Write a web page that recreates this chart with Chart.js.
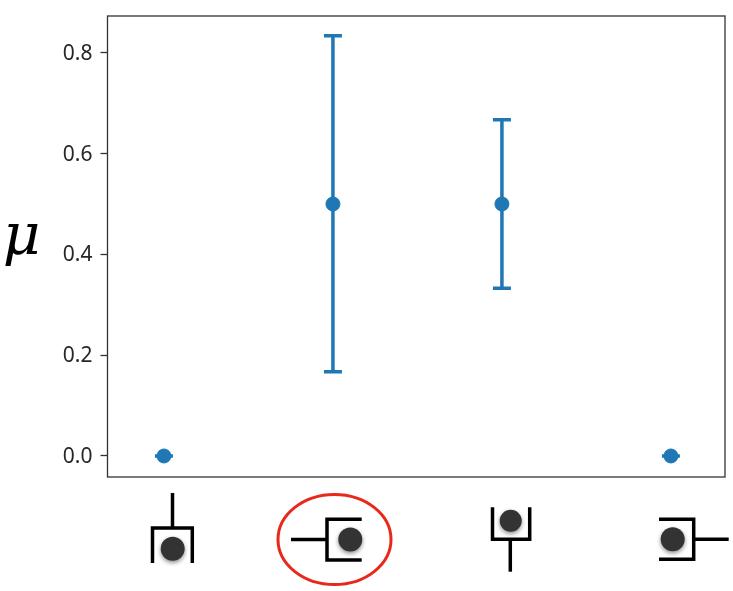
<!DOCTYPE html>
<html>
<head>
<meta charset="utf-8">
<script src="https://cdn.jsdelivr.net/npm/chart.js@4"></script>
<style>
  html, body { margin: 0; padding: 0; background: #fff; }
  canvas { display: block; }
</style>
</head>
<body>
<canvas id="muChart" width="733" height="591"></canvas>
<script>
const positions = [0, 1, 2, 3];
const muValues = [0, 0.5, 0.5, 0];
const lowerValues = [0, 0.167, 0.333, 0];
const upperValues = [0, 0.834, 0.667, 0];
const yTicks = [0, 0.2, 0.4, 0.6, 0.8];

const blue = '#1f77b4';

// little bracket glyphs under the axis, stem is the open line, dot is the particle
function drawBracket(ctx, path, dot) {
    ctx.save();
    ctx.strokeStyle = '#000';
    ctx.lineWidth = 3.5;
    ctx.lineJoin = 'miter';
    path.forEach(line => {
        ctx.beginPath();
        line.forEach((p, i) => i ? ctx.lineTo(p[0], p[1]) : ctx.moveTo(p[0], p[1]));
        ctx.stroke();
    });
    ctx.shadowColor = 'rgba(0,0,0,0.45)';
    ctx.shadowBlur = 4;
    ctx.shadowOffsetY = 2;
    ctx.fillStyle = '#333';
    ctx.beginPath();
    ctx.arc(dot[0], dot[1], dot[2], 0, Math.PI * 2);
    ctx.fill();
    ctx.restore();
}

const errorBars = {
    id: 'errorBars',
    beforeDatasetsDraw(chart) {
        const { ctx, scales: { x, y } } = chart;
        ctx.save();
        ctx.strokeStyle = blue;
        ctx.lineWidth = 3.5;
        positions.forEach((pos, i) => {
            const px = x.getPixelForValue(pos);
            const lo = y.getPixelForValue(lowerValues[i]);
            const hi = y.getPixelForValue(upperValues[i]);
            ctx.beginPath();
            ctx.moveTo(px, lo);
            ctx.lineTo(px, hi);
            ctx.moveTo(px - 9, lo);
            ctx.lineTo(px + 9, lo);
            ctx.moveTo(px - 9, hi);
            ctx.lineTo(px + 9, hi);
            ctx.stroke();
        });
        ctx.restore();
    }
};

const decorations = {
    id: 'decorations',
    afterDraw(chart) {
        const { ctx, chartArea: a } = chart;

        // axes box
        ctx.save();
        ctx.strokeStyle = '#333';
        ctx.lineWidth = 1.3;
        ctx.strokeRect(a.left, a.top, a.right - a.left, a.bottom - a.top);

        // mu label
        ctx.fillStyle = '#000';
        ctx.font = 'italic 58px "DejaVu Serif"';
        ctx.textAlign = 'center';
        ctx.textBaseline = 'alphabetic';
        ctx.fillText('μ', 21.5, 254);
        ctx.restore();

        drawBracket(ctx, [
            [[172.5, 493], [172.5, 528]],
            [[152.5, 563], [152.5, 528], [192.3, 528], [192.3, 563]]
        ], [172.7, 548.7, 12]);

        drawBracket(ctx, [
            [[291, 539.5], [327, 539.5]],
            [[361.7, 519.3], [327, 519.3], [327, 560], [361.7, 560]]
        ], [350.3, 539.5, 12]);

        drawBracket(ctx, [
            [[510.3, 539.3], [510.3, 571.7]],
            [[492.5, 507.3], [492.5, 539.3], [529.7, 539.3], [529.7, 507.3]]
        ], [510.7, 520.7, 11]);

        drawBracket(ctx, [
            [[693.7, 539.3], [728.7, 539.3]],
            [[659, 519.3], [693.7, 519.3], [693.7, 559.3], [659, 559.3]]
        ], [672.7, 539.3, 12]);

        // red circle round the second glyph
        ctx.save();
        ctx.strokeStyle = '#e8281a';
        ctx.lineWidth = 3;
        ctx.beginPath();
        ctx.ellipse(334.5, 539.5, 56.5, 45, 0, 0, Math.PI * 2);
        ctx.stroke();
        ctx.restore();
    }
};

new Chart(document.getElementById('muChart'), {
    type: 'scatter',
    data: {
        datasets: [{
            data: positions.map((pos, i) => ({ x: pos, y: muValues[i] })),
            backgroundColor: blue,
            borderColor: blue,
            pointRadius: 7,
            pointHoverRadius: 7
        }]
    },
    options: {
        responsive: false,
        animation: false,
        layout: { padding: { top: 16, right: 8, bottom: 0, left: 0 } },
        plugins: { legend: { display: false }, tooltip: { enabled: false } },
        scales: {
            x: {
                type: 'linear',
                min: -0.334,
                max: 3.32,
                grid: { display: false },
                border: { display: false },
                ticks: { display: false },
                afterFit: scale => { scale.height = 114; }
            },
            y: {
                min: -0.0417,
                max: 0.873,
                grid: { display: true, drawOnChartArea: false, drawTicks: true, tickLength: 7, tickWidth: 1.3, tickColor: '#333' },
                border: { display: false },
                afterBuildTicks: scale => { scale.ticks = yTicks.map(v => ({ value: v })); },
                ticks: {
                    color: '#262626',
                    padding: 8,
                    labelOffset: 1,
                    font: { family: '"Noto Sans"', size: 21 },
                    callback: v => v.toFixed(1)
                },
                afterFit: scale => {
                    scale.width = 107.5;
                    // tall labels would otherwise push the plot top down
                    scale.paddingTop = 0;
                    scale.paddingBottom = 0;
                }
            }
        }
    },
    plugins: [errorBars, decorations]
});
</script>
</body>
</html>
